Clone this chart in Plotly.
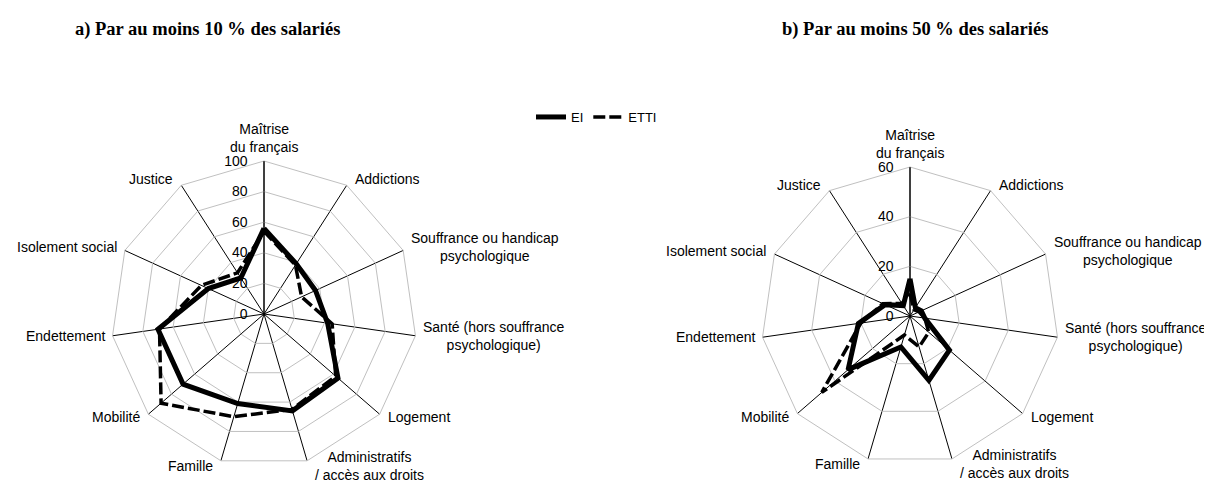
import math
import plotly.graph_objects as go

categories = ["Maîtrise<br>du français", "Addictions", "Souffrance ou handicap<br>psychologique",
              "Santé (hors souffrance<br>psychologique)", "Logement", "Administratifs<br>/ accès aux droits",
              "Famille", "Mobilité", "Endettement", "Isolement social", "Justice"]

# a) Par au moins 10 % des salariés
ei_10 = [56, 39, 37, 42, 64, 66, 61, 70, 70, 40, 28]
etti_10 = [54, 38, 27, 45, 62, 65, 70, 89, 69, 45, 32]

# b) Par au moins 50 % des salariés
ei_50 = [15, 4, 5, 6, 21, 27, 13, 33, 21, 11, 5]
etti_50 = [9, 3, 4, 6, 10, 13, 8, 47, 20, 12, 6]

titles = ["a) Par au moins 10 % des salariés", "b) Par au moins 50 % des salariés"]
series_names = ["EI", "ETTI"]
ranges = [100, 60]

W, H = 1212, 480
OFF = 8  # page body margin of the browser

FONT = "Liberation Sans"

fig = go.Figure()

def closed(v):
    return list(v) + [v[0]]

cats_closed = closed(categories)

for i, (ei, etti) in enumerate([(ei_10, etti_10), (ei_50, etti_50)]):
    sub = "polar" if i == 0 else "polar2"
    fig.add_trace(go.Scatterpolar(r=closed(ei), theta=cats_closed, mode="lines",
                                  line=dict(color="black", width=5), name=series_names[0],
                                  subplot=sub, showlegend=(i == 0)))
    fig.add_trace(go.Scatterpolar(r=closed(etti), theta=cats_closed, mode="lines",
                                  line=dict(color="black", width=3.5, dash="12px,4px"), name=series_names[1],
                                  subplot=sub, showlegend=(i == 0)))

# polar placement (screen px of the page): centre x, centre y, radius
centers = [(264, 314, 153), (910, 316, 149)]

def dom(cx, cy, rad):
    cx -= OFF
    cy -= OFF
    return dict(x=[(cx - rad) / W, (cx + rad) / W], y=[(H - cy - rad) / H, (H - cy + rad) / H])

def polar_cfg(rmax, d):
    return dict(
        domain=d,
        bgcolor="white",
        gridshape="linear",
        radialaxis=dict(range=[0, rmax], dtick=20, angle=90, tickangle=90, side="counterclockwise",
                        showline=True, linecolor="black", linewidth=1, gridcolor="#c0c0c0", gridwidth=1,
                        ticks="outside", ticklen=11, tickcolor="rgba(0,0,0,0)",
                        tickfont=dict(family=FONT, size=14, color="black")),
        angularaxis=dict(rotation=90, direction="clockwise", showline=True, linecolor="#c0c0c0", linewidth=1,
                         gridcolor="black", gridwidth=1, ticks="", showticklabels=False),
    )

annotations = []
for k, t in enumerate(titles):
    annotations.append(dict(text="<b>" + t + "</b>", x=([207, 915][k] - OFF) / W, y=1 - (30 - OFF) / H,
                            xref="paper", yref="paper", xanchor="center", yanchor="middle",
                            showarrow=False, font=dict(family="Liberation Serif", size=18.5, color="black")))

# category labels placed just outside each spoke end
n = len(categories)
for (cx, cy, rad) in centers:
    for j, lab in enumerate(categories):
        a = 2 * math.pi * j / n
        s, c = math.sin(a), math.cos(a)
        vx = cx + rad * s - OFF
        vy = cy - rad * c - OFF
        if abs(s) < 0.05:
            xa, ya, px, py = "center", "bottom", vx, vy - 4
        elif s > 0:
            xa, ya, px, py = "left", "middle", vx + 6, vy - 6 * c - 1
        else:
            xa, ya, px, py = "right", "middle", vx - 6, vy - 6 * c - 1
        annotations.append(dict(text=lab, x=px / W, y=1 - py / H, xref="paper", yref="paper",
                                xanchor=xa, yanchor=ya, align="center", showarrow=False,
                                font=dict(family=FONT, size=14, color="black")))

fig.update_layout(
    width=W, height=H,
    margin=dict(l=0, r=0, t=0, b=0),
    paper_bgcolor="white",
    polar=polar_cfg(ranges[0], dom(*centers[0])),
    polar2=polar_cfg(ranges[1], dom(*centers[1])),
    legend=dict(orientation="h", x=(531 - OFF) / W, y=1 - (117 - OFF) / H, xanchor="left", yanchor="middle",
                font=dict(family=FONT, size=13, color="black"), bgcolor="rgba(0,0,0,0)",
                itemwidth=30, tracegroupgap=0),
    annotations=annotations,
)

fig.write_html("out.html")
